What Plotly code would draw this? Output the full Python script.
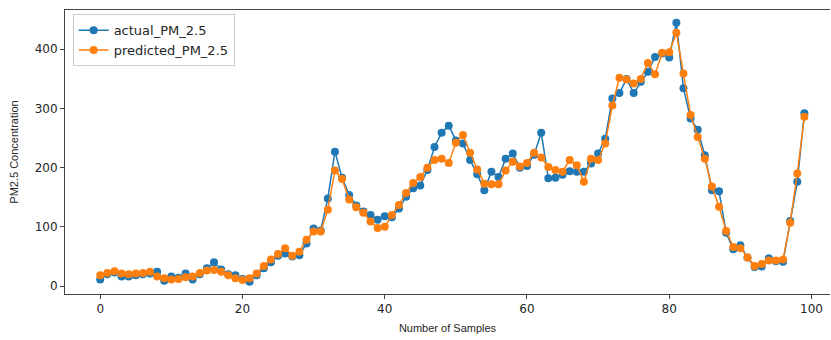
import plotly.graph_objects as go

samples = list(range(100))
actual_pm25 = [11, 20, 23, 16, 16, 18, 20, 21, 24, 9,
               16, 14, 21, 11, 20, 30, 40, 28, 20, 18,
               12, 7, 18, 30, 40, 51, 55, 50, 52, 72,
               97, 94, 148, 227, 183, 154, 136, 126, 120, 112,
               118, 116, 131, 151, 165, 170, 196, 235, 259, 271,
               246, 241, 213, 189, 162, 193, 184, 215, 224, 200,
               203, 222, 259, 182, 183, 188, 194, 193, 193, 207,
               224, 249, 317, 326, 350, 326, 345, 362, 387, 393,
               386, 445, 334, 283, 264, 221, 162, 160, 90, 62,
               69, 48, 32, 33, 47, 42, 41, 110, 176, 292]
predicted_pm25 = [18, 22, 25, 21, 20, 21, 22, 24, 16, 13,
                  11, 12, 15, 16, 22, 26, 27, 24, 18, 13,
                  10, 13, 21, 34, 45, 54, 64, 51, 58, 78,
                  92, 92, 129, 195, 181, 146, 133, 124, 109, 98,
                  100, 120, 137, 157, 174, 184, 200, 213, 215, 208,
                  242, 255, 225, 197, 173, 172, 172, 195, 210, 202,
                  208, 225, 217, 201, 196, 193, 213, 204, 176, 215,
                  213, 241, 305, 352, 349, 342, 350, 377, 358, 394,
                  395, 428, 359, 289, 252, 215, 168, 134, 93, 66,
                  64, 48, 34, 37, 43, 43, 45, 107, 190, 286]
x_ticks = [0, 20, 40, 60, 80, 100]
y_ticks = [0, 100, 200, 300, 400]

fig = go.Figure()
fig.add_trace(go.Scatter(x=samples, y=actual_pm25, mode="lines+markers",
                         name="actual_PM_2.5",
                         line=dict(color="#1f77b4", width=1.5),
                         marker=dict(color="#1f77b4", size=8)))
fig.add_trace(go.Scatter(x=samples, y=predicted_pm25, mode="lines+markers",
                         name="predicted_PM_2.5",
                         line=dict(color="#ff7f0e", width=1.5),
                         marker=dict(color="#ff7f0e", size=8)))

tick_font = dict(family="DejaVu Sans", size=12, color="#262626")
fig.update_layout(
    width=831, height=340,
    margin=dict(l=65, r=1, t=10, b=46),
    paper_bgcolor="white", plot_bgcolor="white",
    showlegend=True,
    legend=dict(x=0.01, y=0.985, xanchor="left", yanchor="top",
                bgcolor="rgba(255,255,255,0.8)", bordercolor="#cccccc", borderwidth=1,
                font=dict(family="DejaVu Sans", size=13, color="#262626"),
                tracegroupgap=0, itemwidth=30),
    xaxis=dict(range=[-4.95, 102.6], tickvals=x_ticks, showgrid=False, zeroline=False,
               showline=True, linecolor="#444444", linewidth=1, mirror=True,
               ticks="outside", ticklen=4, tickcolor="#444444", tickfont=tick_font,
               title=dict(text="Number of Samples", standoff=8,
                          font=dict(family="Liberation Sans", size=11, color="#262626")),
               automargin=False),
    yaxis=dict(range=[-13.5, 466.4], tickvals=y_ticks, showgrid=False, zeroline=False,
               showline=True, linecolor="#444444", linewidth=1,
               ticks="outside", ticklen=4, tickcolor="#444444", tickfont=tick_font,
               title=dict(text="PM2.5 Concentration", standoff=13,
                          font=dict(family="Liberation Sans", size=11, color="#262626")),
               automargin=False),
)
fig.write_html("out.html", config={"displayModeBar": False},
               post_script="document.body.style.margin='0';document.body.style.overflow='hidden';")
